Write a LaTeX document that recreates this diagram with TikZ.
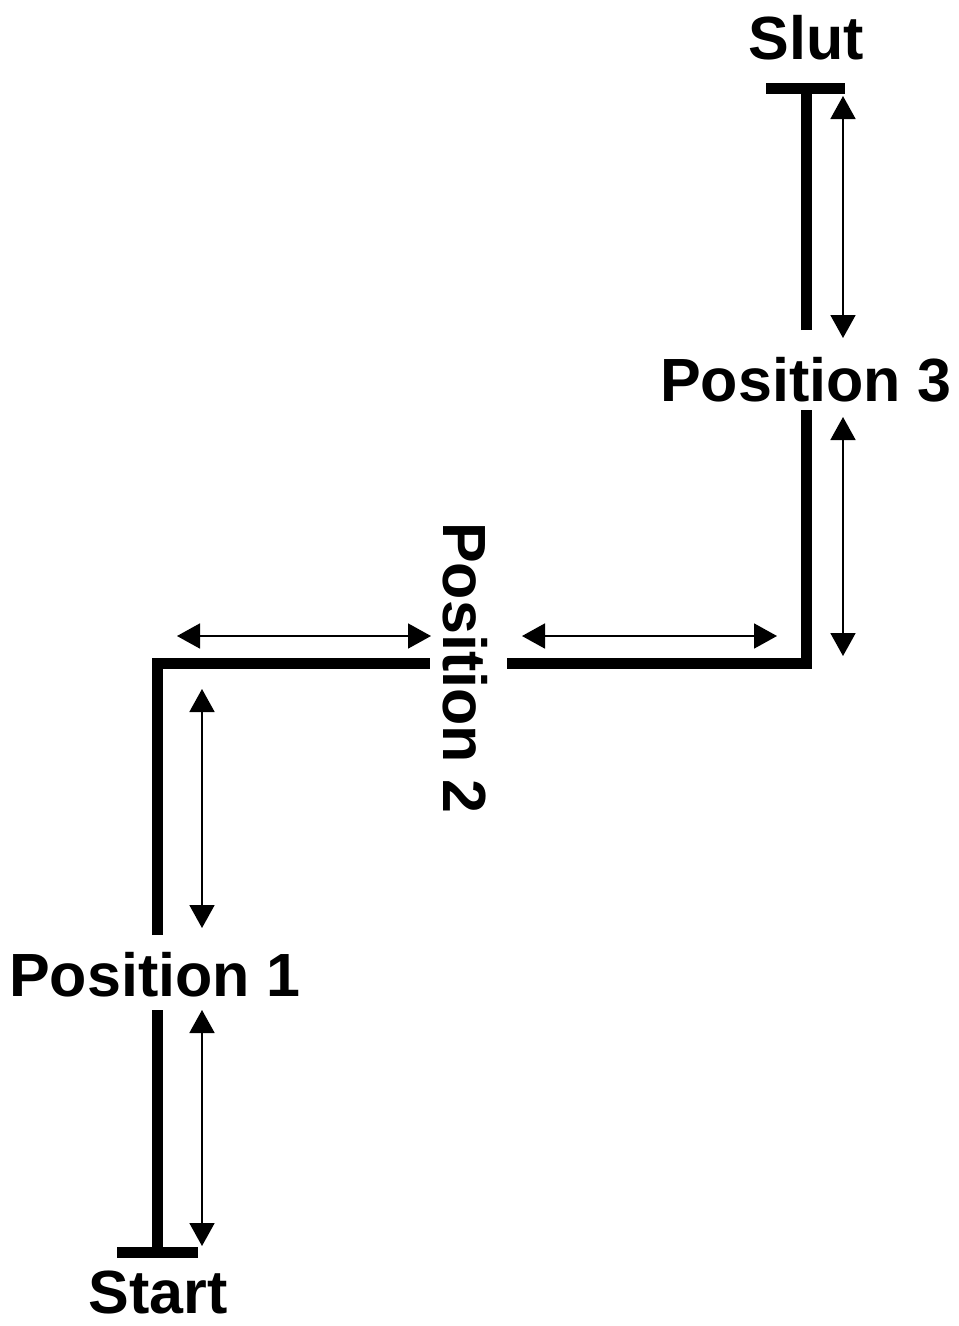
\documentclass[tikz,border=0pt]{standalone}
\usepackage{fontspec}
\setmainfont{Liberation Sans}
\usetikzlibrary{arrows.meta}
\tikzset{
  lbl/.style={font=\fontsize{61}{73}\selectfont\bfseries, inner sep=0pt},
  track/.style={line width=11pt, line cap=butt, line join=miter},
  measure/.style={line width=1.8pt, {Triangle[length=23pt,width=25pt]}-{Triangle[length=23pt,width=25pt]}}
}
\begin{document}
\begin{tikzpicture}[x=1pt,y=-1pt]
\useasboundingbox (0,0) rectangle (959,1326);
% labels
\node[lbl] (slut) at (806,38) {Slut};
\node[lbl] (p3) at (806,380) {Position 3};
\node[lbl, rotate=-90] (p2) at (465,668) {Position 2};
\node[lbl] (p1) at (155,975) {Position 1};
\node[lbl] (start) at (158,1292) {Start};
% track coordinates
\coordinate (sbL) at (117,1252);
\coordinate (sbR) at (198,1252);
\coordinate (s0) at (157,1252);
\coordinate (p1b) at (157,1010);
\coordinate (p1t) at (157,935);
\coordinate (c1) at (157,663);
\coordinate (p2l) at (430,663);
\coordinate (p2r) at (507,663);
\coordinate (c2) at (806,663);
\coordinate (p3b) at (806,410);
\coordinate (p3t) at (806,330);
\coordinate (e0) at (806,88);
\coordinate (ebL) at (766,88);
\coordinate (ebR) at (845,88);
% track
\draw[track] (sbL) -- (sbR);
\draw[track] (s0) -- (p1b);
\draw[track] (p1t) -- (c1) -- (p2l);
\draw[track] (p2r) -- (c2) -- (p3b);
\draw[track] (p3t) -- (e0);
\draw[track] (ebL) -- (ebR);
% measurement arrows
\coordinate (a1a) at (202,1010); \coordinate (a1b) at (202,1246);
\coordinate (a2a) at (202,689);  \coordinate (a2b) at (202,928);
\coordinate (a3a) at (177,636);  \coordinate (a3b) at (431,636);
\coordinate (a4a) at (522,636);  \coordinate (a4b) at (777,636);
\coordinate (a5a) at (843,417);  \coordinate (a5b) at (843,656);
\coordinate (a6a) at (843,96);   \coordinate (a6b) at (843,338);
\draw[measure] (a1a) -- (a1b);
\draw[measure] (a2a) -- (a2b);
\draw[measure] (a3a) -- (a3b);
\draw[measure] (a4a) -- (a4b);
\draw[measure] (a5a) -- (a5b);
\draw[measure] (a6a) -- (a6b);
\end{tikzpicture}
\end{document}
